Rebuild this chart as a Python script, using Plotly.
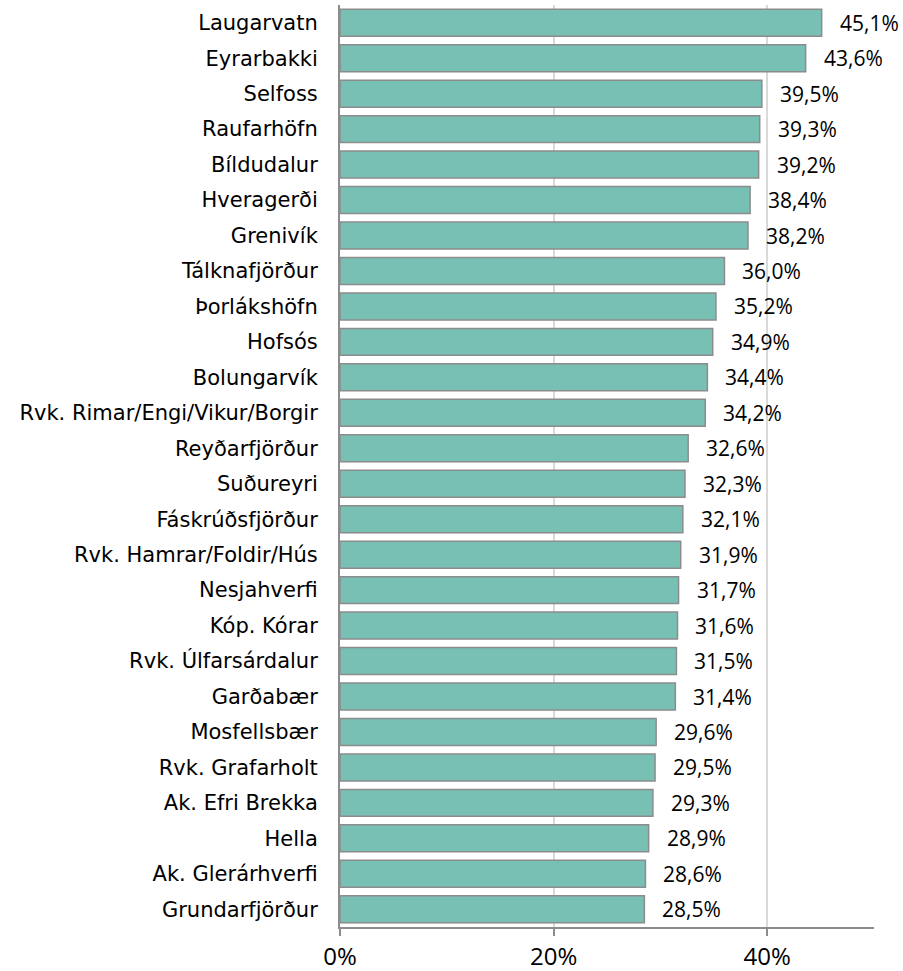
import plotly.graph_objects as go

# Share of residents per locality (percent), top to bottom
places = [
    "Laugarvatn", "Eyrarbakki", "Selfoss", "Raufarhöfn", "Bíldudalur",
    "Hveragerði", "Grenivík", "Tálknafjörður", "Þorlákshöfn", "Hofsós",
    "Bolungarvík", "Rvk. Rimar/Engi/Vikur/Borgir", "Reyðarfjörður", "Suðureyri",
    "Fáskrúðsfjörður", "Rvk. Hamrar/Foldir/Hús", "Nesjahverfi", "Kóp. Kórar",
    "Rvk. Úlfarsárdalur", "Garðabær", "Mosfellsbær", "Rvk. Grafarholt",
    "Ak. Efri Brekka", "Hella", "Ak. Glerárhverfi", "Grundarfjörður",
]
values = [
    45.1, 43.6, 39.5, 39.3, 39.2, 38.4, 38.2, 36.0, 35.2, 34.9,
    34.4, 34.2, 32.6, 32.3, 32.1, 31.9, 31.7, 31.6, 31.5, 31.4,
    29.6, 29.5, 29.3, 28.9, 28.6, 28.5,
]
tick_vals = [0, 20, 40]
tick_text = ["0%", "20%", "40%"]

labels = [f"{v:.1f}".replace(".", ",") + "%" for v in values]

fig = go.Figure()
fig.add_trace(go.Bar(
    x=values,
    y=places,
    orientation="h",
    marker=dict(color="#78bfb4", line=dict(color="#8c8c8c", width=1.5)),
    hoverinfo="skip",
))

# value labels just right of each bar end
for v, p, t in zip(values, places, labels):
    fig.add_annotation(
        x=v, y=p, text=t, xref="x", yref="y",
        xanchor="left", yanchor="middle", showarrow=False, xshift=16,
        font=dict(family="Open Sans", size=21, color="#000000"),
    )

fig.update_layout(
    width=903, height=971,
    margin=dict(l=340, r=29, t=5, b=44),
    paper_bgcolor="white", plot_bgcolor="white",
    bargap=0.24,
    showlegend=False,
)
fig.update_xaxes(
    range=[0, 50], automargin=False,
    tickvals=tick_vals, ticktext=tick_text,
    showgrid=True, gridcolor="#d9d9d9", gridwidth=1.5,
    zeroline=False,
    showline=True, linecolor="#8c8c8c", linewidth=2,
    ticks="outside", ticklen=7, tickcolor="#8c8c8c", tickwidth=2,
    ticklabelstandoff=0,
    tickfont=dict(family="Open Sans", size=24, color="#000000"),
)
fig.update_yaxes(
    categoryorder="array", categoryarray=places[::-1], automargin=False,
    showgrid=False, zeroline=False,
    showline=True, linecolor="#8c8c8c", linewidth=2,
    ticks="", ticklabelstandoff=16,
    tickfont=dict(family="DejaVu Sans", size=21, color="#000000"),
)

fig.write_html("out.html")
